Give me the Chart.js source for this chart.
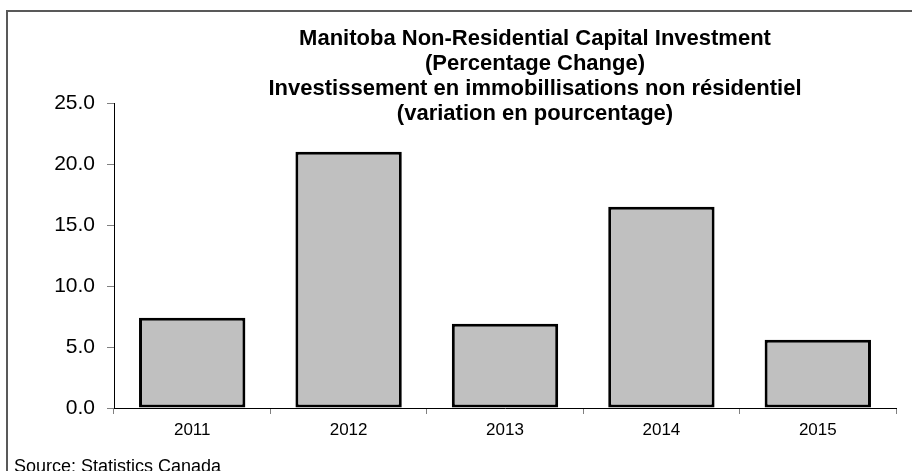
<!DOCTYPE html>
<html>
<head>
<meta charset="utf-8">
<script src="https://cdn.jsdelivr.net/npm/chart.js@4"></script>
<style>
  body { margin: 0; background: #fff; }
  canvas { display: block; }
</style>
</head>
<body>
<canvas id="barChart" width="912" height="471"></canvas>
<script>
const years = ["2011", "2012", "2013", "2014", "2015"];
const pctChange = [7.4, 21.0, 6.9, 16.5, 5.6];
const titleLines = [
    "Manitoba Non-Residential Capital Investment",
    "(Percentage Change)",
    "Investissement en immobillisations non résidentiel",
    "(variation en pourcentage)"
];
const sourceNote = "Source: Statistics Canada";

// frame, title and source note (the title sits over the plot area)
const decorations = {
    id: 'decorations',
    beforeDraw(chart) {
        const ctx = chart.ctx;
        ctx.save();
        ctx.fillStyle = '#fff';
        ctx.fillRect(0, 0, chart.width, chart.height);
        ctx.strokeStyle = '#595959';
        ctx.lineWidth = 2;
        ctx.strokeRect(7, 11, 1000, 1000);
        ctx.restore();
    },
    afterDraw(chart) {
        const ctx = chart.ctx;
        ctx.save();
        ctx.fillStyle = '#000';
        ctx.textAlign = 'center';
        ctx.textBaseline = 'alphabetic';
        ctx.font = 'bold 22px "Liberation Sans", Arial, sans-serif';
        titleLines.forEach((line, i) => ctx.fillText(line, 535, 45 + i * 25));
        ctx.textAlign = 'left';
        ctx.font = '18px "Liberation Sans", Arial, sans-serif';
        ctx.fillText(sourceNote, 14, 472);
        ctx.restore();
    }
};

new Chart(document.getElementById('barChart'), {
    type: 'bar',
    data: {
        labels: years,
        datasets: [{
            label: "",
            data: pctChange,
            backgroundColor: '#C0C0C0',
            borderColor: '#000',
            borderWidth: 3,
            borderSkipped: false,
            barPercentage: 0.68,
            categoryPercentage: 1
        }]
    },
    options: {
        responsive: false,
        animation: false,
        devicePixelRatio: 1,
        layout: { padding: { top: 103, right: 16, left: 0, bottom: 0 } },
        plugins: {
            legend: { display: false },
            tooltip: { enabled: false }
        },
        scales: {
            x: {
                grid: { offset: true, drawOnChartArea: false, tickLength: 6, tickColor: '#808080' },
                border: { color: '#000', width: 1 },
                ticks: { color: '#000', padding: 6, font: { family: '"Liberation Sans", Arial, sans-serif', size: 17 } },
                afterFit(scale) { scale.height = 63; }
            },
            y: {
                min: 0,
                max: 25,
                grid: { drawOnChartArea: false, tickLength: 7, tickColor: '#808080' },
                border: { color: '#000', width: 1 },
                ticks: {
                    stepSize: 5,
                    color: '#000',
                    padding: 12,
                    font: { family: '"Liberation Sans", Arial, sans-serif', size: 21 },
                    callback: v => v.toFixed(1)
                },
                afterFit(scale) { scale.width = 114; }
            }
        }
    },
    plugins: [decorations]
});
</script>
</body>
</html>
